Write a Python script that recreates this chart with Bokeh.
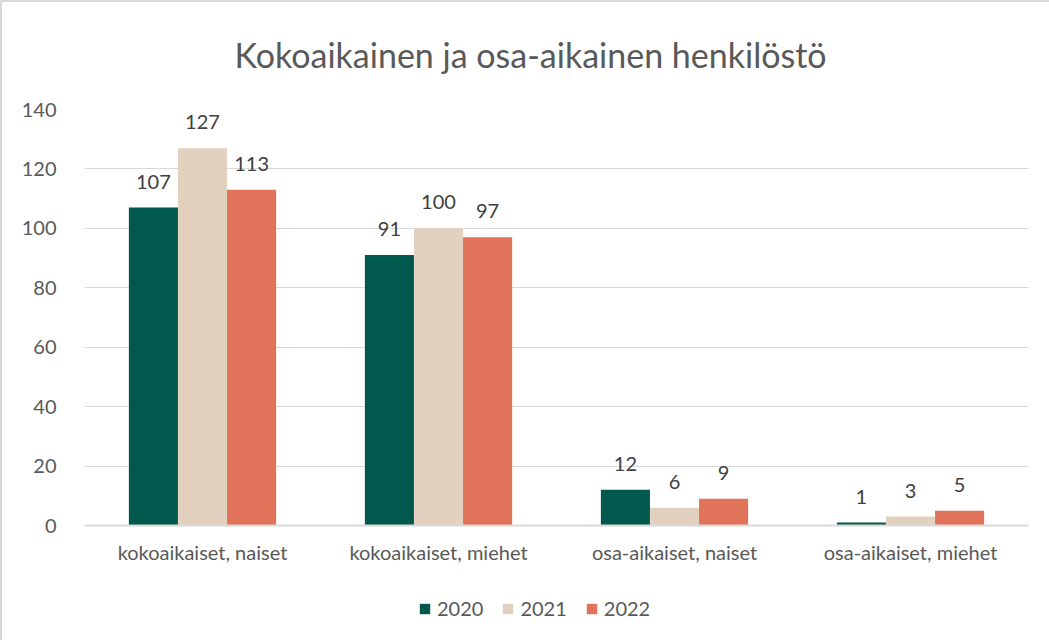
from bokeh.plotting import figure
from bokeh.models import (FactorRange, ColumnDataSource, LabelSet, Legend, LegendItem,
                          SingleIntervalTicker, Div, Range1d)
from bokeh.layouts import column
from bokeh.transform import dodge
from bokeh.core.properties import value
from bokeh.embed import file_html
from bokeh.resources import INLINE

categories = ["kokoaikaiset, naiset", "kokoaikaiset, miehet", "osa-aikaiset, naiset", "osa-aikaiset, miehet"]
years = ["2020", "2021", "2022"]
v2020 = [107, 91, 12, 1]
v2021 = [127, 100, 6, 3]
v2022 = [113, 97, 9, 5]
colors = ["#00594C", "#E2D1BF", "#E0735A"]
title_text = "Kokoaikainen ja osa-aikainen henkilöstö"

FONT = "Lato"
src = ColumnDataSource(dict(cat=categories, y2020=v2020, y2021=v2021, y2022=v2022,
                            l2020=[str(v) for v in v2020], l2021=[str(v) for v in v2021],
                            l2022=[str(v) for v in v2022]))

W = 1047

title_div = Div(text=f'<div style="padding-top:27px; text-align:center; width:{W}px; '
                     f'font-family:Lato; font-size:34px; color:#595959; line-height:41px">'
                     f'{title_text}</div>', width=W, height=83)

p = figure(width=W, height=486, x_range=FactorRange(*categories, range_padding=0),
           y_range=(0, 140), output_backend="svg", toolbar_location=None,
           min_border_left=82, min_border_right=21, min_border_top=14, min_border_bottom=56)
p.background_fill_color = "white"
p.outline_line_color = None

bw = 0.208
offs = [-bw, 0, bw]
for yr, off, col in zip(years, offs, colors):
    p.vbar(x=dodge("cat", off, range=p.x_range), top="y" + yr, width=bw, source=src,
           fill_color=col, line_color=None)
    lbl = LabelSet(x=dodge("cat", off, range=p.x_range), y="y" + yr, text="l" + yr, source=src,
                   y_offset=19, text_align="center", text_baseline="bottom",
                   text_font=value(FONT), text_font_size="20px", text_color="#404040")
    p.add_layout(lbl)

p.yaxis.ticker = SingleIntervalTicker(interval=20)
p.yaxis.axis_line_color = None
p.yaxis.major_tick_line_color = None
p.yaxis.minor_tick_line_color = None
p.yaxis.major_label_text_font = FONT
p.yaxis.major_label_text_font_size = "20px"
p.yaxis.major_label_text_color = "#595959"
p.yaxis.major_label_standoff = 22

p.xaxis.axis_line_color = "#d9d9d9"
p.xaxis.axis_line_width = 2
p.xaxis.major_tick_line_color = None
p.xaxis.minor_tick_line_color = None
p.xaxis.major_label_text_font = FONT
p.xaxis.major_label_text_font_size = "20px"
p.xaxis.major_label_text_color = "#595959"
p.xaxis.major_label_standoff = 8

p.xgrid.grid_line_color = None
p.ygrid.grid_line_color = "#d9d9d9"
p.ygrid.grid_line_width = 1

# legend strip (its frame is aligned with the main frame by the column layout)
p2 = figure(width=W, height=59, x_range=Range1d(0, 1), y_range=Range1d(0, 1),
            output_backend="svg", toolbar_location=None,
            x_axis_location=None, y_axis_location=None,
            min_border_left=0, min_border_right=0, min_border_top=0, min_border_bottom=0)
p2.outline_line_color = None
p2.xgrid.grid_line_color = None
p2.ygrid.grid_line_color = None
leg_renderers = []
for yr, col in zip(years, colors):
    # zero-size proxy bar, only used for its legend swatch
    r = p2.vbar(x=[0.5], top=[0], bottom=[0], width=0, fill_color=col, line_color=None)
    leg_renderers.append(r)
legend = Legend(items=[LegendItem(label=yr, renderers=[r]) for yr, r in zip(years, leg_renderers)],
                orientation="horizontal", location=(334, 20), padding=0, margin=0,
                glyph_width=13, glyph_height=13, label_standoff=6, spacing=18,
                label_text_font=FONT, label_text_font_size="20px", label_text_color="#595959",
                border_line_color=None, background_fill_alpha=0)
p2.add_layout(legend)

layout = column(title_div, p, p2, spacing=0)
layout.styles = {"border-left": "2px solid #d9d9d9", "border-top": "2px solid #d9d9d9"}

open("out.html", "w").write(file_html(layout, INLINE))
